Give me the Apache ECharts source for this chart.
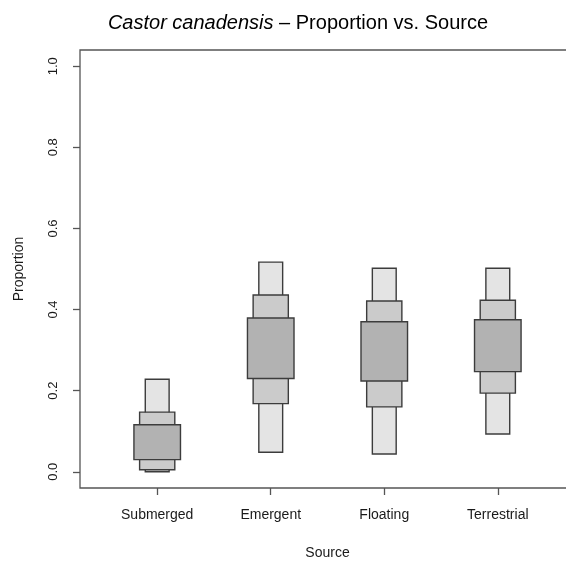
<!DOCTYPE html>
<html>
<head>
<meta charset="utf-8">
<script src="https://cdn.jsdelivr.net/npm/echarts@6/dist/echarts.min.js"></script>
<style>
  html, body { margin: 0; padding: 0; background: #fff; }
  #chart { width: 566px; height: 561px; }
</style>
</head>
<body>
<div id="chart"></div>
<script>
// Sources and credible-interval bounds of the estimated diet proportions
const categories = ['Submerged', 'Emergent', 'Floating', 'Terrestrial'];
const lo95 = [0.000, 0.048, 0.044, 0.093];
const hi95 = [0.228, 0.517, 0.502, 0.502];
const lo75 = [0.005, 0.168, 0.160, 0.194];
const hi75 = [0.147, 0.436, 0.421, 0.423];
const lo50 = [0.030, 0.230, 0.224, 0.247];
const hi50 = [0.116, 0.379, 0.370, 0.375];
const yTicks = [0, 0.2, 0.4, 0.6, 0.8, 1.0];

const FONT = '"Liberation Sans", Arial, sans-serif';
const boxData = categories.map((c, i) =>
  [i + 1, lo95[i], hi95[i], lo75[i], hi75[i], lo50[i], hi50[i]]);

// widths of the three nested boxes, in x-axis units
const widths = [0.21, 0.31, 0.41];
const fills = ['#e4e4e4', '#cbcbcb', '#b2b2b2'];

function renderItem(params, api) {
  const x = api.value(0);
  const children = [];
  for (let k = 0; k < 3; k++) {
    const lo = api.value(1 + 2 * k);
    const hi = api.value(2 + 2 * k);
    const p1 = api.coord([x - widths[k] / 2, hi]);
    const p2 = api.coord([x + widths[k] / 2, lo]);
    children.push({
      type: 'rect',
      shape: { x: p1[0], y: p1[1], width: p2[0] - p1[0], height: p2[1] - p1[1] },
      style: { fill: fills[k], stroke: '#3c3c3c', lineWidth: 1.4 }
    });
  }
  return { type: 'group', children };
}

const chart = echarts.init(document.getElementById('chart'), null, { renderer: 'canvas' });
chart.setOption({
  animation: false,
  backgroundColor: '#ffffff',
  title: {
    text: '{i|Castor canadensis} – Proportion vs. Source',
    left: 293,
    textAlign: 'center',
    top: 8,
    textStyle: {
      fontFamily: FONT, fontSize: 20, fontWeight: 'normal', color: '#000',
      rich: { i: { fontFamily: FONT, fontSize: 20, fontStyle: 'italic', color: '#000' } }
    }
  },
  grid: {
    left: 80, top: 50, right: -9, bottom: 73,
    outerBoundsMode: 'none',
    containLabel: false,
    show: true, borderColor: '#555', borderWidth: 1.3, backgroundColor: 'transparent'
  },
  xAxis: {
    type: 'value',
    min: 0.32, max: 4.68,
    name: 'Source',
    nameLocation: 'middle',
    nameGap: 58,
    nameTextStyle: { fontFamily: FONT, fontSize: 14, color: '#1a1a1a' },
    axisLine: { show: false, onZero: false },
    splitLine: { show: false },
    axisTick: { show: true, length: 7, customValues: [1, 2, 3, 4], lineStyle: { color: '#555', width: 1.3 } },
    axisLabel: {
      customValues: [1, 2, 3, 4],
      margin: 20,
      fontFamily: FONT, fontSize: 14, color: '#1a1a1a',
      formatter: v => categories[Math.round(v) - 1]
    }
  },
  yAxis: {
    type: 'value',
    min: -0.04, max: 1.04,
    name: 'Proportion',
    nameLocation: 'middle',
    nameGap: 54,
    nameRotate: 90,
    nameTextStyle: { fontFamily: FONT, fontSize: 14, color: '#1a1a1a' },
    axisLine: { show: false, onZero: false },
    splitLine: { show: false },
    axisTick: { show: true, length: 7, customValues: yTicks, lineStyle: { color: '#555', width: 1.3 } },
    axisLabel: {
      customValues: yTicks,
      rotate: 90,
      margin: 20,
      fontFamily: FONT, fontSize: 13, color: '#1a1a1a',
      formatter: v => v.toFixed(1)
    }
  },
  series: [{
    type: 'custom',
    renderItem,
    data: boxData,
    encode: { x: 0, y: [1, 2] },
    clip: false
  }]
});
</script>
</body>
</html>
